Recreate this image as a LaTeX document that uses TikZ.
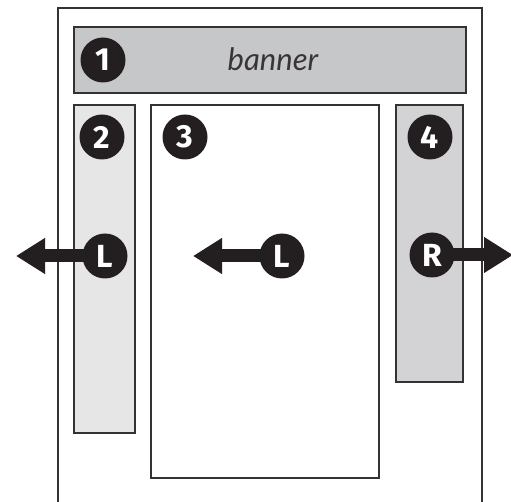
\documentclass[tikz,border=0pt]{standalone}
\usepackage{fontspec}
\usetikzlibrary{arrows.meta}
\newfontfamily\numfont{Fira Sans}
\newfontfamily\bannerfont{Lato}
\definecolor{ink}{HTML}{231F20}
\definecolor{edge}{HTML}{333333}
\definecolor{bannerfill}{HTML}{C6C7C9}
\definecolor{sidefill}{HTML}{E6E6E6}
\definecolor{rightfill}{HTML}{D3D3D5}
\pgfdeclarelayer{bg}
\pgfdeclarelayer{mid}
\pgfsetlayers{bg,mid,main}
\tikzset{
  box/.style={draw=edge, line width=2pt, anchor=north west, inner sep=0pt},
  badge/.style={circle, fill=ink, minimum size=45pt, inner sep=0pt, text=white,
    font=\numfont\bfseries\fontsize{32}{32}\selectfont},
  floatarrow/.style={line width=13pt, draw=ink,
    -{Triangle[length=29pt 0, width=34pt 0]}},
}
\begin{document}
\begin{tikzpicture}[x=1pt,y=-1pt]
\useasboundingbox (0,0) rectangle (511,502);
\clip (0,0) rectangle (511,502);
\begin{pgfonlayer}{bg}
  \fill[white] (0,0) rectangle (511,502);
  \draw[edge, line width=2pt] (58,510) -- (58,8) -- (482,8) -- (482,510);
  \node[box, fill=bannerfill, minimum width=392pt, minimum height=66pt] (banner) at (73,26) {};
  \node[box, fill=sidefill, minimum width=61pt, minimum height=328pt] (col2) at (73,104) {};
  \node[box, fill=white, minimum width=228pt, minimum height=373pt] (col3) at (150,104) {};
  \node[box, fill=rightfill, minimum width=67pt, minimum height=277pt] (col4) at (395,104) {};
\end{pgfonlayer}
\node[font=\bannerfont\itshape\fontsize{31}{31}\selectfont, text=ink!90] (bannertext) at (273,59) {banner};
\node[badge] (n1) at (103,60) {1};
\node[badge] (n2) at (102,137) {2};
\node[badge] (n3) at (185,137) {3};
\node[badge] (n4) at (430,137) {4};
\node[badge] (L2) at (105,256) {L};
\node[badge] (L3) at (282,256) {L};
\node[badge] (R4) at (432,255) {R};
\coordinate (tipL2) at (16,256);
\coordinate (tipL3) at (193,256);
\coordinate (tipR4) at (513,255);
\begin{pgfonlayer}{mid}
  \draw[floatarrow] (L2.center) -- (tipL2);
  \draw[floatarrow] (L3.center) -- (tipL3);
  \draw[floatarrow] (R4.center) -- (tipR4);
\end{pgfonlayer}
\end{tikzpicture}
\end{document}
